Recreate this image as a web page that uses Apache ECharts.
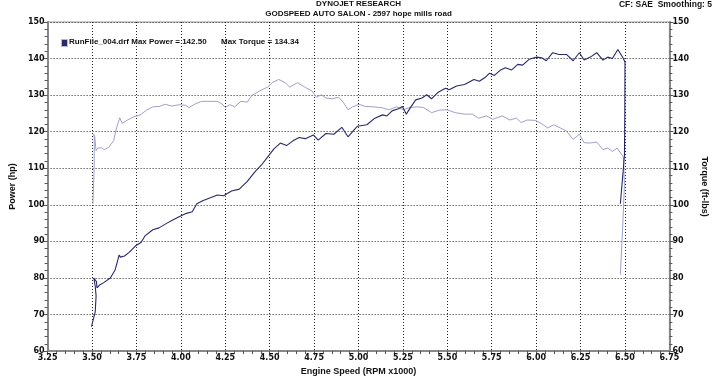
<!DOCTYPE html>
<html>
<head>
<meta charset="utf-8">
<script src="https://cdn.jsdelivr.net/npm/echarts@6/dist/echarts.min.js"></script>
<style>
  html, body { margin: 0; padding: 0; background: #fff; }
  #main { width: 717px; height: 381px; }
</style>
</head>
<body>
<div id="main"></div>
<script>
// header + legend text
const titleLines = ['DYNOJET RESEARCH', 'GODSPEED AUTO SALON - 2597 hope mills road'];
const cornerNote = 'CF: SAE  Smoothing: 5';
const runLabel = 'RunFile_004.drf Max Power = 142.50';
const torqueLabel = 'Max Torque = 134.34';

// axis ticks
const rpmTicks = [3.25, 3.5, 3.75, 4.0, 4.25, 4.5, 4.75, 5.0, 5.25, 5.5, 5.75, 6.0, 6.25, 6.5, 6.75];
const hpTicks = [60, 70, 80, 90, 100, 110, 120, 130, 140, 150];
const torqueTicks = [60, 70, 80, 90, 100, 110, 120, 130, 140, 150];

// power trace (rpm x1000, hp)
const powerRpm = [3.497, 3.518, 3.523, 3.518, 3.510, 3.515, 3.525, 3.528, 3.541, 3.568, 3.603, 3.630, 3.653, 3.660, 3.683,
  3.709, 3.745, 3.776, 3.798, 3.842, 3.877, 3.922, 3.957, 3.993, 4.028, 4.064, 4.090, 4.126, 4.170, 4.206,
  4.241, 4.285, 4.329, 4.374, 4.418, 4.454, 4.489, 4.524, 4.560, 4.595, 4.631, 4.666, 4.701, 4.746, 4.773,
  4.817, 4.861, 4.906, 4.941, 4.994, 5.047, 5.092, 5.136, 5.160, 5.189, 5.225, 5.247, 5.269, 5.295, 5.322,
  5.357, 5.384, 5.411, 5.446, 5.490, 5.510, 5.552, 5.597, 5.650, 5.680, 5.712, 5.738, 5.765, 5.800, 5.827,
  5.862, 5.897, 5.924, 5.960, 6.004, 6.031, 6.057, 6.093, 6.128, 6.172, 6.208, 6.243, 6.270, 6.305, 6.341,
  6.376, 6.403, 6.429, 6.460, 6.491, 6.500, 6.499, 6.497, 6.474];
const powerHp = [66.7, 70.7, 75.1, 77.8, 80.0, 80.2, 79.0, 77.3, 78.0, 78.8, 80.0, 82.2, 86.3, 85.7, 86.0,
  87.0, 88.8, 89.7, 91.5, 93.2, 93.7, 95.0, 95.9, 96.8, 97.6, 98.1, 100.3, 101.2, 102.0, 102.7,
  102.5, 103.8, 104.3, 106.4, 109.1, 110.9, 113.1, 115.3, 116.9, 116.2, 117.5, 118.4, 118.1, 119.1, 117.7,
  119.5, 119.3, 121.2, 118.6, 121.5, 121.9, 123.7, 124.6, 124.3, 125.7, 126.3, 126.9, 124.8, 126.8, 128.7,
  129.2, 130.1, 129.0, 130.7, 131.9, 131.5, 132.5, 132.9, 134.3, 133.8, 134.8, 136.0, 135.4, 136.9, 137.5,
  136.9, 138.4, 138.2, 139.8, 140.4, 140.2, 139.4, 141.6, 141.1, 141.1, 139.4, 141.6, 139.6, 140.4, 141.6,
  139.6, 140.4, 140.0, 142.5, 140.0, 139.0, 125.0, 113.5, 100.3];

// torque trace (rpm x1000, ft-lbs)
const torqueRpm = [3.505, 3.512, 3.513, 3.510, 3.516, 3.520, 3.523, 3.532, 3.541, 3.555, 3.568, 3.594, 3.621, 3.638, 3.656,
  3.670, 3.700, 3.736, 3.771, 3.807, 3.842, 3.877, 3.913, 3.949, 3.993, 4.028, 4.046, 4.081, 4.117, 4.152,
  4.205, 4.232, 4.250, 4.276, 4.303, 4.338, 4.374, 4.400, 4.445, 4.489, 4.515, 4.551, 4.587, 4.613, 4.657,
  4.701, 4.737, 4.764, 4.790, 4.817, 4.852, 4.888, 4.914, 4.941, 4.967, 5.003, 5.038, 5.083, 5.127, 5.171,
  5.216, 5.251, 5.287, 5.331, 5.366, 5.411, 5.455, 5.499, 5.544, 5.597, 5.641, 5.676, 5.721, 5.756, 5.809,
  5.853, 5.889, 5.915, 5.950, 5.995, 6.030, 6.066, 6.098, 6.137, 6.172, 6.208, 6.243, 6.270, 6.305, 6.341,
  6.376, 6.403, 6.429, 6.456, 6.491, 6.497, 6.488, 6.474];
const torqueFt = [100.3, 110.0, 118.0, 119.3, 118.5, 116.0, 114.8, 115.5, 115.3, 115.6, 115.1, 115.7, 117.5, 121.0, 123.8,
  122.3, 123.2, 124.1, 124.6, 125.9, 126.8, 126.9, 127.5, 127.0, 127.4, 127.2, 126.6, 127.6, 128.3, 128.3,
  128.3, 127.6, 126.6, 127.4, 126.8, 128.3, 128.1, 129.9, 131.2, 132.2, 133.4, 134.3, 133.4, 132.2, 133.4,
  132.1, 131.2, 129.4, 130.1, 129.2, 129.0, 129.4, 128.1, 126.0, 126.8, 127.5, 126.9, 126.8, 126.6, 126.0,
  126.8, 126.0, 126.6, 126.8, 126.6, 125.2, 125.9, 126.0, 125.2, 124.8, 124.8, 123.7, 124.3, 123.4, 124.3,
  123.2, 123.7, 122.5, 123.2, 123.1, 122.2, 121.0, 121.9, 121.0, 120.1, 117.9, 119.3, 117.0, 116.9, 117.2,
  115.1, 115.5, 114.6, 115.5, 113.1, 105.6, 95.0, 80.9];

const zip = (xs, ys) => xs.map((x, i) => [x, ys[i]]);

const font = 'Liberation Sans, Arial, sans-serif';
const tickFont = 'DejaVu Sans, Verdana, sans-serif';
const labelStyle = { color: '#111', fontFamily: font, fontWeight: 'bold', fontSize: 9 };
const tickStyle = { color: '#111', fontFamily: tickFont, fontWeight: 'bold', fontSize: 8 };
const gridDots = { show: true, lineStyle: { color: '#222', width: 1, type: [1, 2] } };

function yAxisFor(ticks, name, side) {
  return {
    type: 'value',
    position: side,
    min: ticks[0],
    max: ticks[ticks.length - 1],
    interval: ticks[1] - ticks[0],
    name: name,
    nameLocation: 'middle',
    nameRotate: side === 'left' ? 90 : -90,
    nameGap: side === 'left' ? 27 : 30,
    nameTextStyle: labelStyle,
    axisLine: { show: true, lineStyle: { color: '#888', width: 2 } },
    axisTick: { show: true, length: 4, lineStyle: { color: '#555' } },
    minorTick: { show: true, splitNumber: 5, length: 3, lineStyle: { color: '#555' } },
    axisLabel: Object.assign({ margin: 3 }, tickStyle),
    splitLine: side === 'left' ? gridDots : { show: false }
  };
}

const chart = echarts.init(document.getElementById('main'), null, { renderer: 'canvas' });
chart.setOption({
  animation: false,
  backgroundColor: '#fff',
  title: [
    { text: titleLines[0], left: 'center', top: 0, padding: 0, textStyle: { fontFamily: font, fontWeight: 'bold', fontSize: 8, color: '#111' } },
    { text: titleLines[1], left: 'center', top: 10, padding: 0, textStyle: { fontFamily: font, fontWeight: 'bold', fontSize: 8, color: '#111' } },
    { text: cornerNote, right: 5, top: 0, padding: 0, textStyle: { fontFamily: font, fontWeight: 'bold', fontSize: 8.5, color: '#111' } }
  ],
  grid: { left: 30, right: 28, top: 22, bottom: 19, show: true, borderColor: '#999', borderWidth: 1 },
  xAxis: {
    type: 'value',
    min: rpmTicks[0],
    max: rpmTicks[rpmTicks.length - 1],
    interval: 0.25,
    name: 'Engine Speed (RPM x1000)',
    nameLocation: 'middle',
    nameGap: 13,
    nameTextStyle: labelStyle,
    axisLine: { show: true, lineStyle: { color: '#888', width: 2 } },
    axisTick: { show: true, length: 4, lineStyle: { color: '#555' } },
    minorTick: { show: true, splitNumber: 5, length: 3, lineStyle: { color: '#555' } },
    axisLabel: Object.assign({ margin: 3, formatter: v => v.toFixed(2) }, tickStyle),
    splitLine: gridDots
  },
  yAxis: [yAxisFor(hpTicks, 'Power (hp)', 'left'), yAxisFor(torqueTicks, 'Torque (ft-lbs)', 'right')],
  graphic: [
    { type: 'rect', left: 61, top: 39, shape: { width: 6, height: 7 }, style: { fill: '#2a2a6a', stroke: '#b8b8dc', lineWidth: 1 } },
    { type: 'text', left: 69, top: 38, style: { text: runLabel, font: 'bold 8px ' + font, fill: '#111' } },
    { type: 'text', left: 221, top: 38, style: { text: torqueLabel, font: 'bold 8px ' + font, fill: '#111' } }
  ],
  series: [
    {
      name: 'Torque', type: 'line', yAxisIndex: 1, showSymbol: false, silent: true,
      lineStyle: { color: '#a0a0cc', width: 1 },
      data: zip(torqueRpm, torqueFt)
    },
    {
      name: 'Power', type: 'line', yAxisIndex: 0, showSymbol: false, silent: true,
      lineStyle: { color: '#28286a', width: 1.1 },
      data: zip(powerRpm, powerHp)
    }
  ]
});
</script>
</body>
</html>
